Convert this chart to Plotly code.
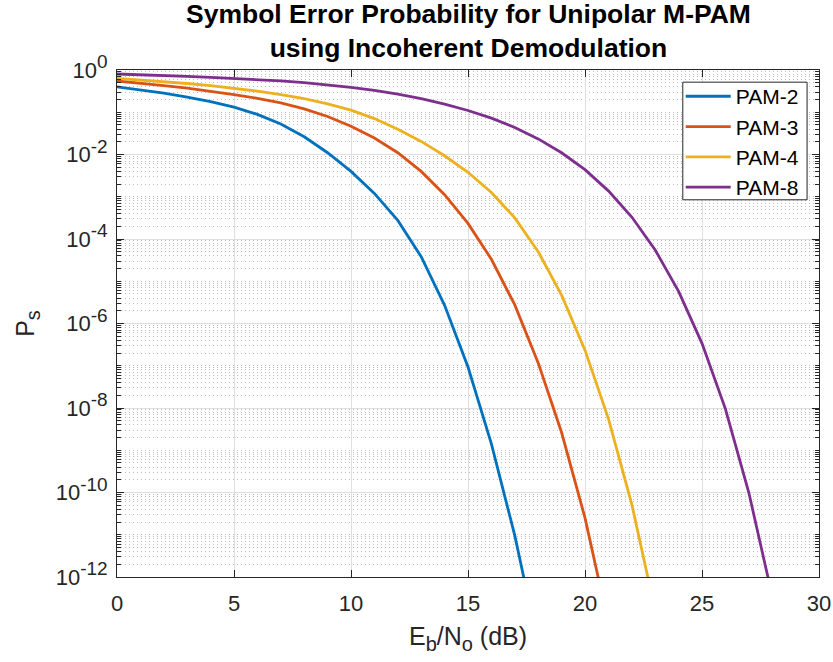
import plotly.graph_objects as go

# Eb/No grid in dB (1 dB steps)
ebno_db = list(range(0, 29))

# Symbol error probability for each constellation size
ps_pam2 = [0.398, 0.339, 0.282, 0.229, 0.178, 0.132, 0.0891, 0.0525, 0.0263, 0.0110,
           3.98e-3, 1.20e-3, 2.75e-4, 3.80e-5, 2.69e-6, 9.33e-8, 1.41e-9, 9.55e-12, 2.51e-14]
ps_pam3 = [0.550, 0.490, 0.427, 0.372, 0.316, 0.263, 0.214, 0.166, 0.120, 0.0794,
           0.0468, 0.0245, 0.0110, 3.98e-3, 1.12e-3, 2.34e-4, 3.31e-5, 2.75e-6, 1.17e-7,
           2.63e-9, 2.51e-11, 7.94e-14]
ps_pam4 = [0.631, 0.582, 0.531, 0.479, 0.427, 0.372, 0.316, 0.263, 0.209, 0.158,
           0.112, 0.0708, 0.0398, 0.0204, 9.33e-3, 3.80e-3, 1.26e-3, 3.16e-4, 5.01e-5,
           4.68e-6, 2.34e-7, 5.62e-9, 5.25e-11, 1.58e-13]
ps_pam8 = [0.804, 0.776, 0.741, 0.708, 0.668, 0.631, 0.589, 0.550, 0.501, 0.447,
           0.389, 0.331, 0.269, 0.209, 0.155, 0.110, 0.0724, 0.0437, 0.0234, 0.0110,
           4.37e-3, 1.38e-3, 3.31e-4, 5.50e-5, 5.75e-6, 3.39e-7, 9.55e-9, 1.0e-10, 3.55e-13]

series_names = ["PAM-2", "PAM-3", "PAM-4", "PAM-8"]
series_values = [ps_pam2, ps_pam3, ps_pam4, ps_pam8]
series_colors = ["#0072BD", "#D95319", "#EDB120", "#7E2F8E"]

x_ticks = [0, 5, 10, 15, 20, 25, 30]
y_tick_vals = [1e0, 1e-2, 1e-4, 1e-6, 1e-8, 1e-10, 1e-12]
y_tick_exps = ["0", "-2", "-4", "-6", "-8", "-10", "-12"]
y_tick_text = ["10<sup><span style='font-size:19px'>%s</span></sup>" % e for e in y_tick_exps]

title_lines = ["Symbol Error Probability for Unipolar M-PAM", "using Incoherent Demodulation"]

AXIS_COLOR = "#262626"
FONT = "Arial, Liberation Sans, Helvetica, sans-serif"

fig = go.Figure()
for name, vals, color in zip(series_names, series_values, series_colors):
    fig.add_trace(go.Scatter(
        x=ebno_db[:len(vals)], y=vals, mode="lines", name=name,
        line=dict(color=color, width=2.8),
    ))

fig.update_layout(
    width=833, height=662, autosize=False,
    margin=dict(l=117, r=14, t=70, b=85),
    paper_bgcolor="white", plot_bgcolor="white",
    font=dict(family=FONT, color=AXIS_COLOR),
    legend=dict(
        x=0.803, y=0.988, xanchor="left", yanchor="top",
        bgcolor="rgba(0,0,0,0)", borderwidth=0,
        font=dict(family=FONT, size=21, color="black"),
        tracegroupgap=0, itemwidth=45,
    ),
    showlegend=True,
    # legend frame
    shapes=[dict(type="rect", xref="paper", yref="paper",
                 x0=0.806, x1=0.983, y0=0.744, y1=0.976,
                 line=dict(color=AXIS_COLOR, width=1), fillcolor="white", layer="above")],
    annotations=[dict(
        text="<b>" + "<br>".join(title_lines) + "</b>",
        xref="paper", yref="paper", x=0.5, y=1.077,
        xanchor="center", yanchor="middle", showarrow=False,
        font=dict(family=FONT, size=26.5, color="black"),
    )],
)

fig.update_xaxes(
    range=[0, 30], tickvals=x_ticks, ticks="inside", ticklen=7, tickcolor=AXIS_COLOR,
    showline=True, linecolor=AXIS_COLOR, linewidth=1, mirror="allticks",
    showgrid=True, gridcolor="#dfdfdf", gridwidth=1, zeroline=False, automargin=False,
    ticklabelstandoff=7,
    tickfont=dict(family=FONT, size=22, color=AXIS_COLOR),
    title=dict(text="E<sub><span style='font-size:20px'>b</span></sub>/N<sub><span style='font-size:20px'>o</span></sub> (dB)",
               standoff=12, font=dict(family=FONT, size=25, color=AXIS_COLOR)),
)

fig.update_yaxes(
    type="log", range=[-12, 0],
    tickmode="array", tickvals=y_tick_vals, ticktext=y_tick_text,
    ticks="inside", ticklen=7, tickcolor=AXIS_COLOR,
    showline=True, linecolor=AXIS_COLOR, linewidth=1, mirror="allticks",
    showgrid=True, gridcolor="#dfdfdf", gridwidth=1, zeroline=False, automargin=False,
    ticklabelstandoff=4,
    tickfont=dict(family=FONT, size=22, color=AXIS_COLOR),
    minor=dict(dtick="D1", ticks="inside", ticklen=4, tickcolor=AXIS_COLOR,
               showgrid=True, gridcolor="#bdbdbd", griddash="1px,3px", gridwidth=1),
    title=dict(text="P<sub><span style='font-size:20px'>s</span></sub>", standoff=13,
               font=dict(family=FONT, size=25, color=AXIS_COLOR)),
)

fig.write_html("out.html")
